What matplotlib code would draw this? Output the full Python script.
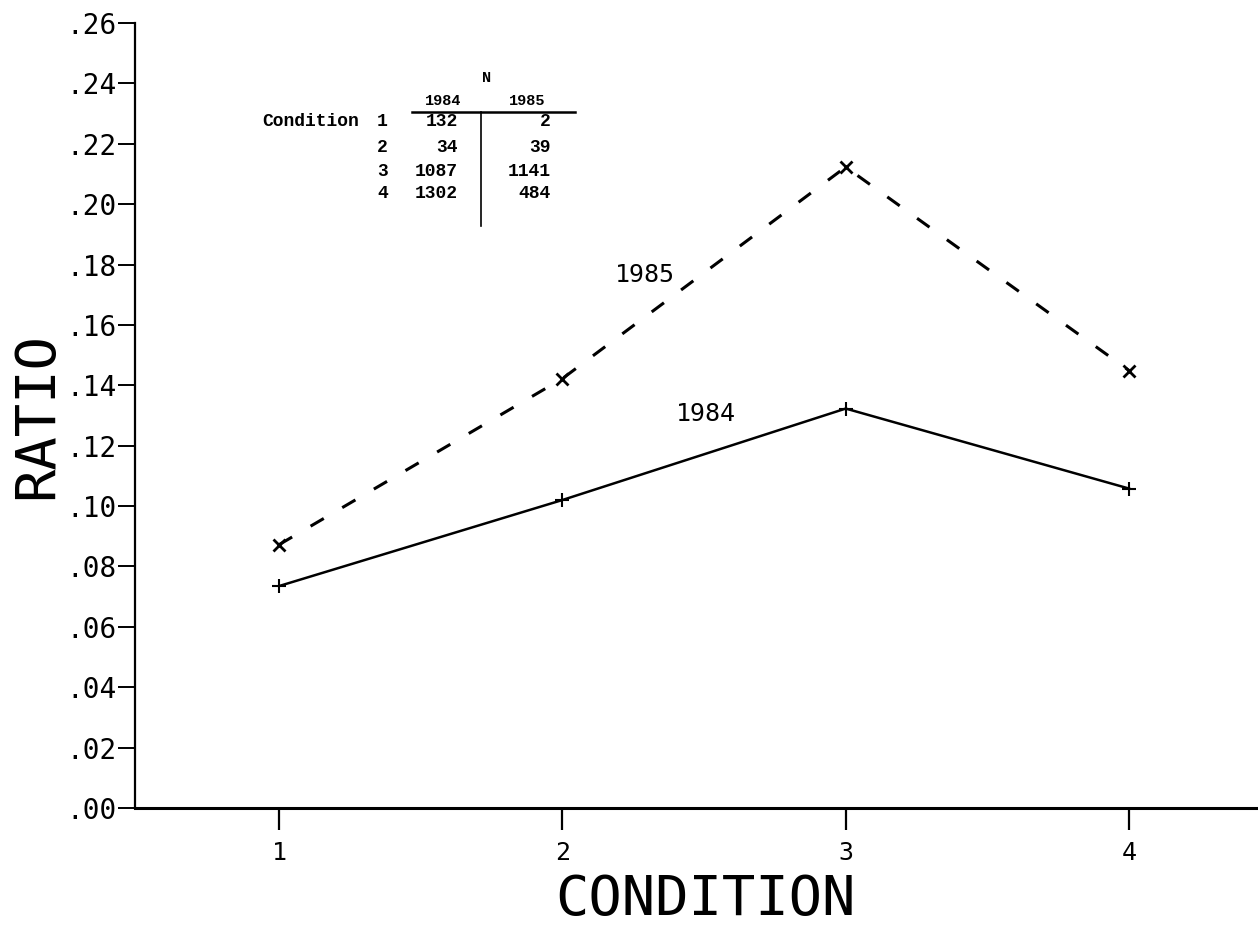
import matplotlib

matplotlib.use("Agg")
import matplotlib.pyplot as plt
from matplotlib.lines import Line2D

# --------------------------------------------------------------------------- #
# Data
# --------------------------------------------------------------------------- #
conditions = [1, 2, 3, 4]
ratio_1984 = [0.0735, 0.102, 0.1323, 0.1058]
ratio_1985 = [0.0872, 0.1422, 0.2123, 0.1449]

y_ticks = [0.00, 0.02, 0.04, 0.06, 0.08, 0.10, 0.12, 0.14, 0.16, 0.18, 0.20,
           0.22, 0.24, 0.26]
y_tick_labels = [".00", ".02", ".04", ".06", ".08", ".10", ".12", ".14", ".16",
                 ".18", ".20", ".22", ".24", ".26"]

# N table shown in the upper left
table_conditions = ["1", "2", "3", "4"]
n_1984 = ["132", "34", "1087", "1302"]
n_1985 = ["2", "39", "1141", "484"]

W, H = 1258, 940
MONO = "DejaVu Sans Mono"
TABLE_FONT = "Liberation Mono"


def px(x, y):
    """Pixel position (from top-left) -> figure fraction."""
    return x / W, 1 - y / H


fig = plt.figure(figsize=(W / 100, H / 100), dpi=100)
ax = fig.add_axes([135 / W, 132 / H, (W - 135) / W, 785 / H])

ax.plot(conditions, ratio_1984, color="black", lw=1.8, marker="+", ms=10, mew=1.5)
ax.plot(conditions, ratio_1985, color="black", lw=2.2, dashes=(5.0, 7.0),
        marker="x", ms=8, mew=2.0)

ax.set_xlim(0.492, 4.455)
ax.set_ylim(0, 0.26)
ax.set_xticks(conditions)
ax.set_xticklabels([str(c) for c in conditions], fontsize=18, family=MONO)
ax.set_yticks(y_ticks)
ax.set_yticklabels(y_tick_labels, fontsize=20, family=MONO)
ax.tick_params(axis="x", direction="out", length=16, width=1.6, pad=8)
ax.tick_params(axis="y", direction="out", length=12, width=1.4, pad=1)

for side in ("top", "right"):
    ax.spines[side].set_visible(False)
ax.spines["left"].set_linewidth(1.6)
ax.spines["bottom"].set_linewidth(2.2)

ax.set_xlabel("CONDITION", fontsize=40, family=MONO, labelpad=4)
ax.xaxis.set_label_coords(0.508, -0.083)
ax.set_ylabel("RATIO", fontsize=40, family=MONO, labelpad=2)

# series labels
ax.text(2.292, 0.1765, "1985", fontsize=18, family=MONO, ha="center", va="center")
ax.text(2.507, 0.1305, "1984", fontsize=18, family=MONO, ha="center", va="center")

# N table
fig.text(*px(487, 78), "N", fontsize=11, family=TABLE_FONT, weight="bold",
         ha="center", va="center")
fig.text(*px(443, 101), "1984", fontsize=11, family=TABLE_FONT, weight="bold",
         ha="center", va="center")
fig.text(*px(527, 101), "1985", fontsize=11, family=TABLE_FONT, weight="bold",
         ha="center", va="center")
row_y = [122, 147, 171, 194]
fig.text(*px(262, row_y[0]), "Condition", fontsize=13, family=TABLE_FONT,
         weight="bold", ha="left", va="center")
for yy, c, a, b in zip(row_y, table_conditions, n_1984, n_1985):
    fig.text(*px(388, yy), c, fontsize=13, family=TABLE_FONT, weight="bold",
             ha="right", va="center")
    fig.text(*px(458, yy), a, fontsize=13, family=TABLE_FONT, weight="bold",
             ha="right", va="center")
    fig.text(*px(551, yy), b, fontsize=13, family=TABLE_FONT, weight="bold",
             ha="right", va="center")

x0, y0 = px(412, 112)
x1, _ = px(575, 112)
fig.add_artist(Line2D([x0, x1], [y0, y0], color="black", lw=1.8,
                      transform=fig.transFigure))
vx, vy0 = px(481, 112)
_, vy1 = px(481, 226)
fig.add_artist(Line2D([vx, vx], [vy0, vy1], color="black", lw=1.2,
                      transform=fig.transFigure))

fig.savefig("out.png", dpi=100)
